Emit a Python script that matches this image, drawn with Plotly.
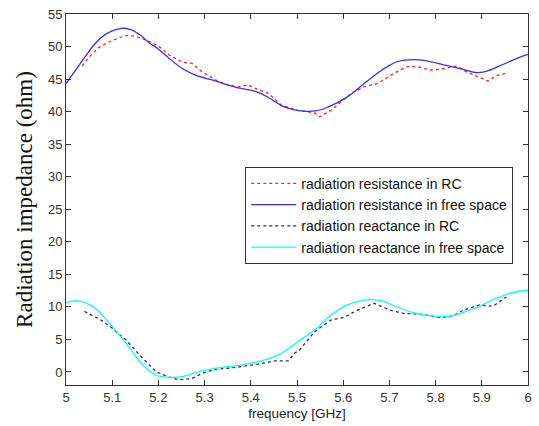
import plotly.graph_objects as go

# Radiation resistance in free space (blue solid)
f_rfs = [5.00, 5.02, 5.04, 5.06, 5.08, 5.10, 5.12, 5.14, 5.16, 5.18, 5.20, 5.22, 5.25, 5.28,
         5.32, 5.35, 5.37, 5.41, 5.44, 5.47, 5.50, 5.54, 5.567, 5.61, 5.64, 5.674, 5.70, 5.717,
         5.753, 5.781, 5.817, 5.853, 5.888, 5.91, 5.935, 5.96, 5.98, 6.00]
r_fs = [44.3, 46.3, 48.3, 50.2, 51.6, 52.4, 52.8, 52.6, 51.8, 50.6, 49.6, 48.4, 46.7, 45.6,
        44.8, 44.1, 43.7, 43.1, 42.1, 40.8, 40.2, 40.1, 40.7, 42.3, 44.0, 45.9, 47.1, 47.7,
        48.0, 47.8, 47.2, 46.6, 46.0, 46.2, 46.9, 47.7, 48.3, 48.8]

# Radiation resistance in RC (red dashed)
f_rrc = [5.035, 5.05, 5.07, 5.09, 5.11, 5.13, 5.15, 5.17, 5.187, 5.205, 5.223, 5.252, 5.273, 5.295,
         5.323, 5.345, 5.373, 5.395, 5.409, 5.438, 5.466, 5.502, 5.538, 5.549, 5.574, 5.617,
         5.645, 5.674, 5.71, 5.738, 5.76, 5.789, 5.81, 5.845, 5.867, 5.888, 5.913, 5.931, 5.956]
r_rc = [47.0, 48.4, 49.8, 50.6, 51.2, 51.7, 51.6, 51.0, 50.6, 49.8, 48.7, 47.6, 47.4, 46.1,
        44.9, 44.2, 43.8, 44.1, 43.6, 42.8, 41.0, 40.2, 39.8, 39.2, 40.2, 42.8,
        43.8, 44.3, 45.9, 46.9, 46.9, 46.4, 46.5, 47.0, 46.1, 45.5, 44.7, 45.5, 46.0]

# Radiation reactance in free space (cyan solid)
f_xfs = [5.00, 5.023, 5.059, 5.094, 5.13, 5.166, 5.195, 5.223, 5.252, 5.288, 5.323, 5.38, 5.416,
         5.452, 5.488, 5.502, 5.538, 5.574, 5.609, 5.645, 5.681, 5.717, 5.753, 5.788, 5.824,
         5.86, 5.895, 5.931, 5.967, 6.00]
x_fs = [10.65, 10.95, 10.0, 7.5, 4.4, 1.1, -0.5, -0.8, -0.7, 0.05, 0.56, 1.07, 1.6,
        2.35, 3.9, 4.65, 6.45, 8.75, 10.3, 11.05, 10.95, 10.0, 9.1, 8.65, 8.5,
        9.15, 10.1, 11.3, 12.2, 12.6]

# Radiation reactance in RC (black dashed)
f_xrc = [5.04, 5.073, 5.094, 5.13, 5.166, 5.195, 5.223, 5.245, 5.273, 5.295, 5.323, 5.366, 5.416,
         5.452, 5.481, 5.495, 5.506, 5.538, 5.574, 5.602, 5.631, 5.667, 5.702, 5.73, 5.767,
         5.81, 5.838, 5.86, 5.895, 5.924, 5.953]
x_rc = [9.3, 8.1, 7.1, 4.9, 2.1, 0.05, -0.8, -1.2, -1.0, -0.2, 0.4, 0.7, 1.2,
        1.7, 1.7, 2.9, 3.4, 6.2, 8.0, 8.4, 9.5, 10.55, 9.5, 9.0, 8.9,
        8.35, 8.6, 9.5, 10.3, 10.1, 11.5]

labels = ["radiation resistance in RC", "radiation resistance in free space",
          "radiation reactance in RC", "radiation reactance in free space"]
y_ticks = list(range(0, 56, 5))
x_ticks = [5.0, 5.1, 5.2, 5.3, 5.4, 5.5, 5.6, 5.7, 5.8, 5.9, 6.0]
x_tick_text = ["5", "5.1", "5.2", "5.3", "5.4", "5.5", "5.6", "5.7", "5.8", "5.9", "6"]

fig = go.Figure()
fig.add_trace(go.Scatter(x=f_rrc, y=r_rc, mode="lines", name=labels[0],
                         line=dict(color="#FF2020", width=1.3, dash="3px,3px")))
fig.add_trace(go.Scatter(x=f_rfs, y=r_fs, mode="lines", name=labels[1],
                         line=dict(color="#3030F8", width=1.3, shape="spline")))
fig.add_trace(go.Scatter(x=f_xrc, y=x_rc, mode="lines", name=labels[2],
                         line=dict(color="#333333", width=1.3, dash="3px,3px")))
fig.add_trace(go.Scatter(x=f_xfs, y=x_fs, mode="lines", name=labels[3],
                         line=dict(color="#00FFFF", width=1.3, shape="spline")))

axis_common = dict(showline=True, linecolor="#333333", linewidth=1, mirror="ticks",
                   ticks="inside", ticklen=5, tickcolor="#333333", showgrid=False,
                   zeroline=False, tickfont=dict(family="Liberation Sans, Arial", size=13, color="#333333"))

fig.update_layout(
    width=539, height=426,
    margin=dict(l=66, r=7, t=14, b=41),
    paper_bgcolor="white", plot_bgcolor="white",
    showlegend=True,
    legend=dict(x=0.388, y=0.588, xanchor="left", yanchor="top",
                bgcolor="white", bordercolor="#333333", borderwidth=1,
                font=dict(family="Liberation Sans, Arial", size=14, color="#111111"),
                itemwidth=45, tracegroupgap=0),
    xaxis=dict(range=[5, 6], tickvals=x_ticks, ticktext=x_tick_text,
               title=dict(text="frequency [GHz]", standoff=4,
                          font=dict(family="Liberation Sans, Arial", size=13.5, color="#222222")),
               **axis_common),
    yaxis=dict(range=[-2, 55], tickvals=y_ticks,
               title=dict(text="Radiation impedance (ohm)", standoff=8,
                          font=dict(family="Liberation Serif, Times New Roman", size=23, color="#111111")),
               **axis_common),
)
fig.write_html("out.html")
